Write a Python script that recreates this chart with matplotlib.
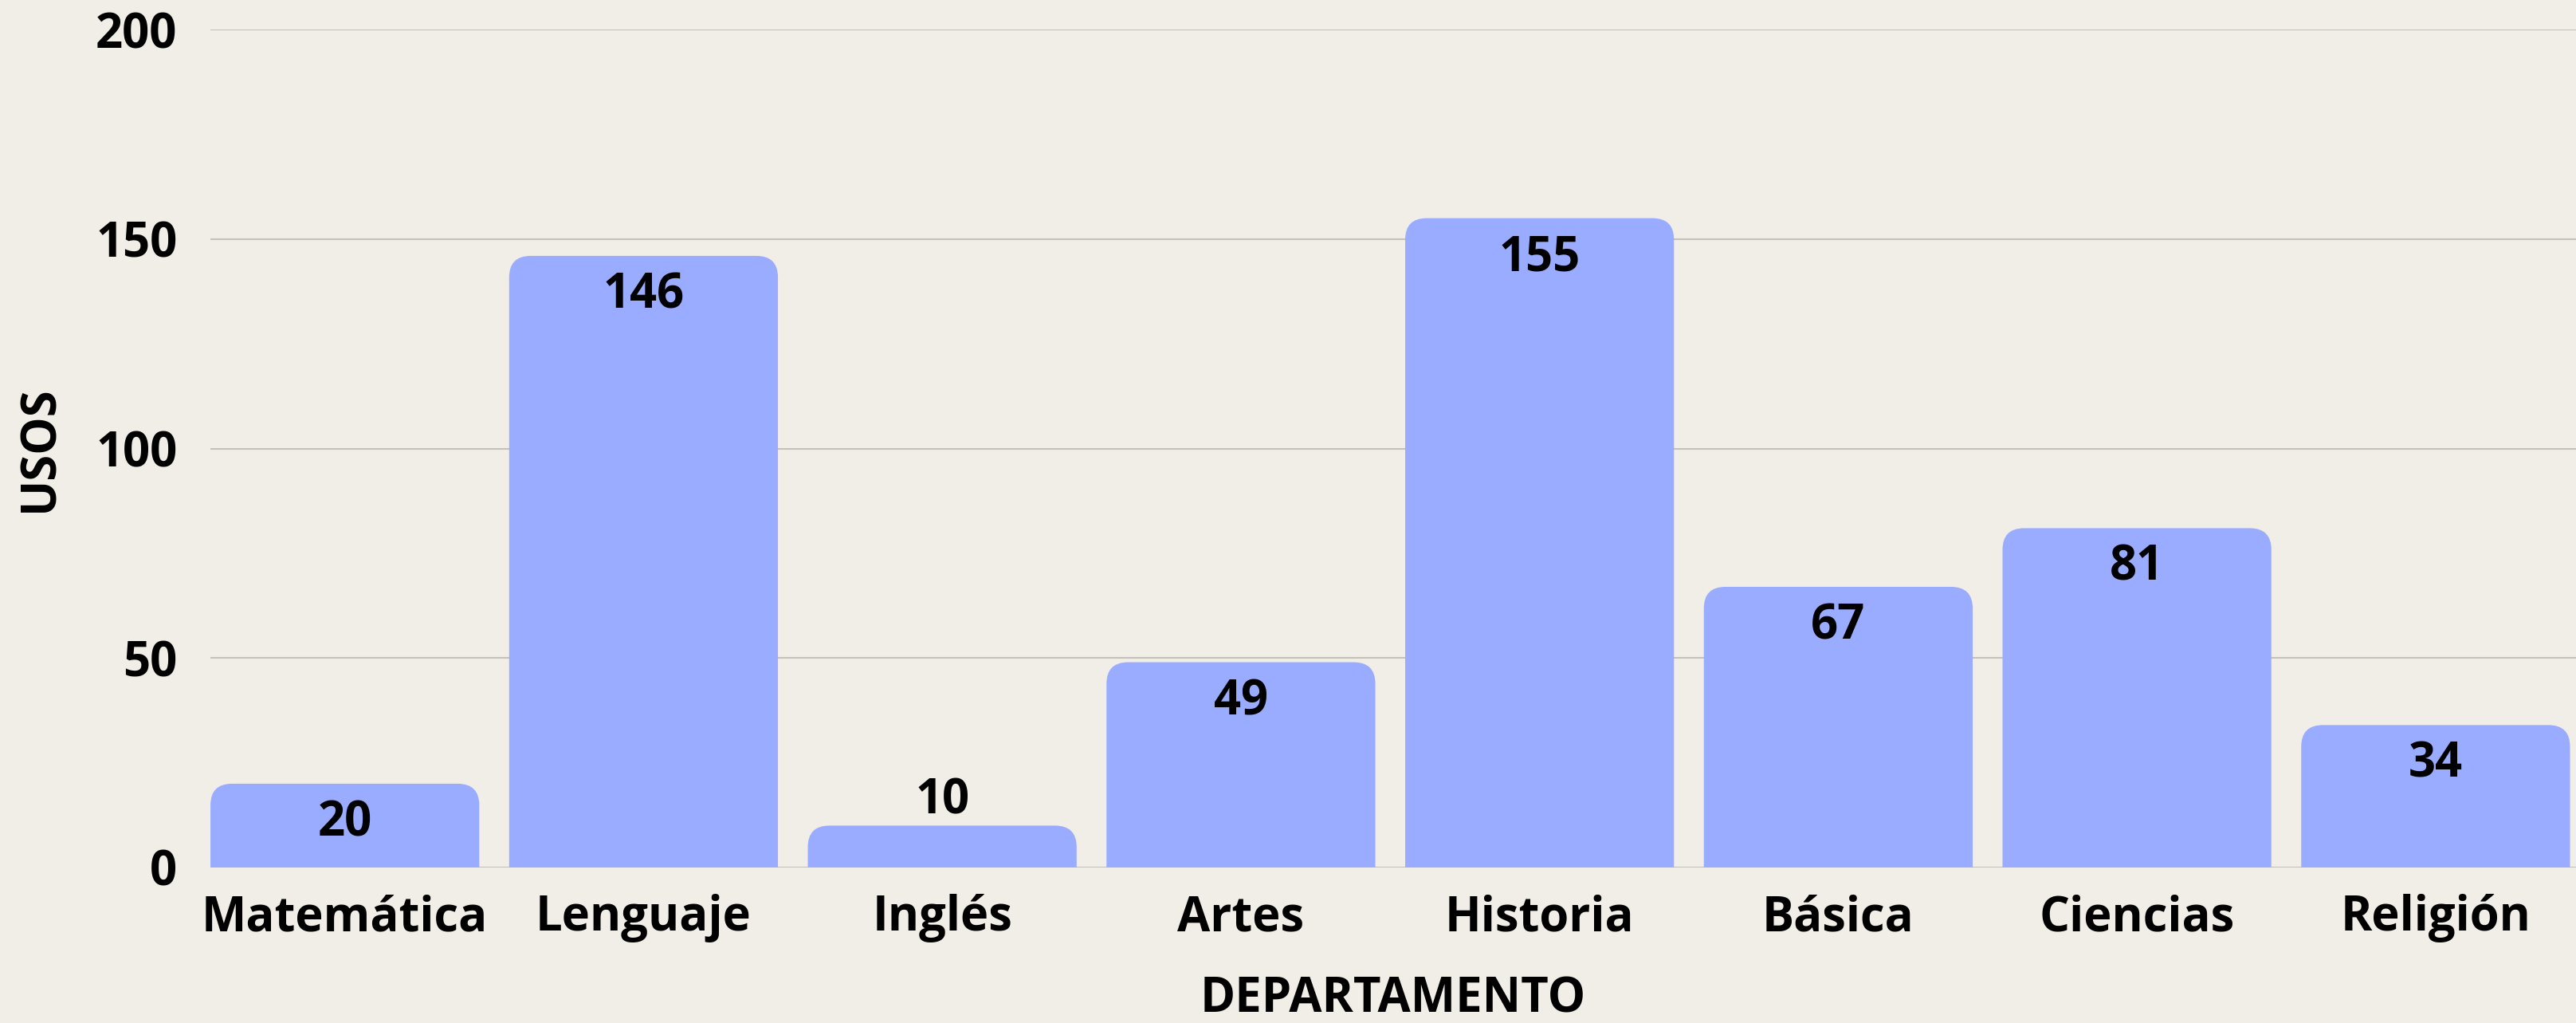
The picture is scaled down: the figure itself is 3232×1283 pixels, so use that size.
import matplotlib
matplotlib.use('Agg')
import matplotlib.pyplot as plt
from matplotlib.patches import FancyBboxPatch

# Datos del gráfico
departamentos = ['Matemática', 'Lenguaje', 'Inglés', 'Artes', 'Historia', 'Básica', 'Ciencias', 'Religión']
usos = [20, 146, 10, 49, 155, 67, 81, 34]
yticks = [0, 50, 100, 150, 200]

fondo = '#f1eee8'
color_barra = '#9aacff'

plt.rcParams['font.family'] = ['Open Sans', 'DejaVu Sans']
plt.rcParams['font.weight'] = 'bold'

fig = plt.figure(figsize=(32.32, 12.83), dpi=100, facecolor=fondo)
ax = fig.add_axes([0.0817, 0.152, 0.9183, 0.819])
ax.set_facecolor(fondo)

ancho = 0.9
ax.set_xlim(-0.45, 7.47)
ax.set_ylim(0, 200)

# relación de aspecto en pixeles para redondear solo las esquinas de arriba
fig.canvas.draw()
p0 = ax.transData.transform((0, 0))
p1 = ax.transData.transform((1, 1))
px_x = p1[0] - p0[0]
px_y = p1[1] - p0[1]
radio_px = 27
rx = radio_px / px_x
aspecto = px_x / px_y
ry = radio_px / px_y

barras = ax.bar(range(len(usos)), usos, width=ancho, color='none')
for b, v in zip(barras, usos):
    caja = FancyBboxPatch((b.get_x(), -ry), b.get_width(), v + ry,
                          boxstyle=f'round,pad=0,rounding_size={rx}',
                          mutation_aspect=aspecto, facecolor=color_barra,
                          edgecolor='none', zorder=3, clip_on=True)
    ax.add_patch(caja)
    x = b.get_x() + b.get_width() / 2
    if v < 15:
        ax.annotate(str(v), (x, v), xytext=(0, 22), textcoords='offset points',
                    ha='center', va='center', fontsize=43, fontweight='bold', zorder=4)
    else:
        ax.annotate(str(v), (x, v), xytext=(0, -36), textcoords='offset points',
                    ha='center', va='center', fontsize=43, fontweight='bold', zorder=4)

ax.set_yticks(yticks)
ax.set_xticks(range(len(departamentos)))
ax.set_xticklabels(departamentos)
ax.tick_params(axis='both', length=0, labelsize=43)
ax.tick_params(axis='y', pad=30)
ax.tick_params(axis='x', pad=24)
ax.grid(axis='y', color='#c4c1bb', linewidth=1.5, zorder=0)
ax.axhline(0, color='#777777', linewidth=2, zorder=1)
for s in ax.spines.values():
    s.set_visible(False)

ax.set_xlabel('DEPARTAMENTO', fontsize=43, fontweight='bold', labelpad=30)
ax.set_ylabel('USOS', fontsize=43, fontweight='bold', labelpad=28)

fig.savefig('out.png', dpi=100, facecolor=fondo)
